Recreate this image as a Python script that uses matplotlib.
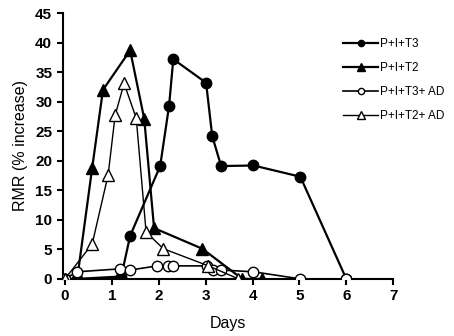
import matplotlib.pyplot as plt

plt.rcParams['font.family'] = ['Liberation Sans', 'DejaVu Sans']

# P+I+T3
t3_days = [0, 0.26, 1.2, 1.39, 2.03, 2.22, 2.31, 3.01, 3.14, 3.33, 4.02, 5.02, 6.0]
t3_vals = [0, 0, 0.4, 7.3, 19.1, 29.3, 37.2, 33.2, 24.2, 19.1, 19.2, 17.3, 0]

# P+I+T2
t2_days = [0.26, 0.58, 0.81, 1.39, 1.69, 1.9, 2.93, 3.78, 4.21]
t2_vals = [0, 18.8, 32.0, 38.7, 27.1, 8.6, 5.1, 0, 0]

# P+I+T3+ AD
t3ad_days = [0, 0.26, 1.18, 1.39, 1.97, 2.2, 2.31, 3.03, 3.16, 3.33, 4.02, 5.02, 6.0]
t3ad_vals = [0, 1.2, 1.7, 1.5, 2.2, 2.2, 2.2, 2.2, 1.5, 1.5, 1.2, 0, 0]

# P+I+T2+ AD
t2ad_days = [0, 0.58, 0.92, 1.07, 1.26, 1.52, 1.73, 2.1, 3.06, 3.7]
t2ad_vals = [0, 5.9, 17.6, 27.7, 33.1, 27.2, 7.9, 5.1, 2.2, 0]

fig = plt.figure(figsize=(4.54, 3.36), dpi=100)
ax = fig.add_axes([0.138, 0.170, 0.728, 0.791])

ax.plot(t3_days, t3_vals, color='black', lw=1.6, marker='o', ms=7.5,
        mfc='black', mec='black', label='P+I+T3', zorder=3)
ax.plot(t2_days, t2_vals, color='black', lw=1.6, marker='^', ms=8.5,
        mfc='black', mec='black', label='P+I+T2', zorder=3)
ax.plot(t3ad_days, t3ad_vals, color='black', lw=1.2, marker='o', ms=7.5,
        mfc='white', mec='black', label='P+I+T3+ AD', zorder=4)
ax.plot(t2ad_days, t2ad_vals, color='black', lw=1.0, marker='^', ms=8.5,
        mfc='white', mec='black', label='P+I+T2+ AD', zorder=4)

ax.set_xlim(-0.05, 7)
ax.set_ylim(0, 45)
ax.set_xticks(range(0, 8))
ax.set_yticks(range(0, 46, 5))
ax.spines['top'].set_visible(False)
ax.spines['right'].set_visible(False)
ax.spines['left'].set_linewidth(1.5)
ax.spines['bottom'].set_linewidth(1.5)
ax.tick_params(width=1.5, length=4, labelsize=11)
for lab in ax.get_xticklabels() + ax.get_yticklabels():
    lab.set_fontweight('bold')

ax.set_xlabel('Days', fontsize=11.5, labelpad=9)
ax.set_ylabel('RMR (% increase)', fontsize=11.5, labelpad=5)

fig.legend(loc='upper left', bbox_to_anchor=(0.745, 0.90), frameon=False,
           fontsize=8.5, handlelength=3.0, markerscale=0.6,
           labelspacing=1.0, handletextpad=0.1, borderaxespad=0)

fig.savefig('out.png', dpi=100)
